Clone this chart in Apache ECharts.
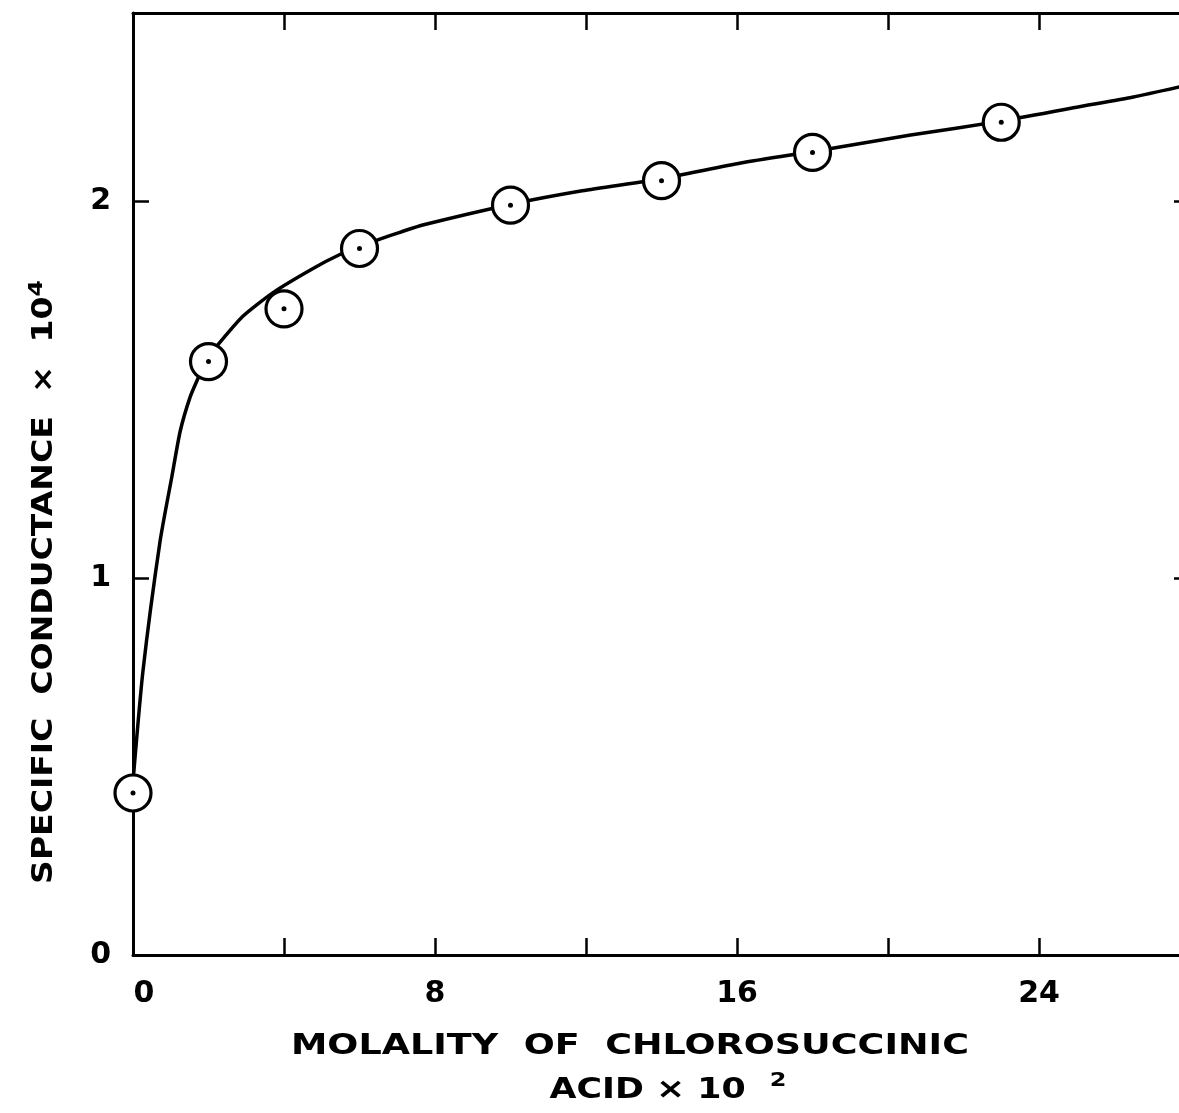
<!DOCTYPE html>
<html>
<head>
<meta charset="utf-8">
<title>Specific conductance of chlorosuccinic acid</title>
<script src="https://cdn.jsdelivr.net/npm/echarts@6/dist/echarts.min.js"></script>
<style>
  html, body { margin: 0; padding: 0; background: #ffffff; overflow: hidden; }
  #chart { width: 1179px; height: 1113px; }
</style>
</head>
<body>
<div id="chart"></div>
<script>
// Measured points: molality of chlorosuccinic acid (x 10^2) vs specific conductance (x 10^4)
var molality = [0, 2, 4, 6, 10, 14, 18, 23];
var conductance = [0.43, 1.575, 1.715, 1.875, 1.99, 2.055, 2.13, 2.21];

// Hand-drawn smooth curve through the measurements
var curveMolality = [0, 0.26, 0.72, 1.03, 1.25, 1.51, 1.72, 1.93, 2.23, 2.91, 3.71, 4.77, 5.48, 6.0, 6.54, 7.07, 7.7, 10.0, 11.9, 14.0, 16.1, 18.1, 20.6, 23.0, 25.0, 26.5, 28];
var curveConductance = [0.46, 0.75, 1.10, 1.27, 1.39, 1.48, 1.53, 1.577, 1.617, 1.695, 1.758, 1.822, 1.859, 1.880, 1.900, 1.918, 1.938, 1.992, 2.028, 2.06, 2.102, 2.134, 2.176, 2.213, 2.25, 2.277, 2.31];

// Axis ticks and labels
var xTickStep = 4;
var xLabelValues = [0, 8, 16, 24];
var yTickStep = 1;
var yLabelValues = [0, 1, 2];

// Axis titles; {s|...} marks the raised exponent
var xTitleLine1 = 'MOLALITY  OF  CHLOROSUCCINIC';
var xTitleLine2 = 'ACID × 10  {s|2}';
var yTitle = 'SPECIFIC  CONDUCTANCE  ×  10{s|4}';

var FONT = 'DejaVu Sans';
var INK = '#000000';

function pairs(xs, ys) {
  return xs.map(function (x, i) { return [x, ys[i]]; });
}

var pointData = pairs(molality, conductance);
var curveData = pairs(curveMolality, curveConductance);

var axisLine = { show: true, onZero: false, lineStyle: { color: INK, width: 3 } };

function xAxisBase(pos, labels) {
  return {
    type: 'value',
    position: pos,
    min: 0,
    max: 28,
    interval: xTickStep,
    axisLine: axisLine,
    axisTick: { show: true, inside: true, length: 17, lineStyle: { color: INK, width: 2.5 } },
    splitLine: { show: false },
    axisLabel: labels ? {
      show: true,
      margin: 24,
      fontFamily: FONT,
      fontWeight: 'bold',
      fontSize: 30,
      color: INK,
      formatter: function (v) {
        if (xLabelValues.indexOf(v) < 0) return '';
        return v === 0 ? '{z|0}' : String(v);
      },
      rich: { z: { fontFamily: FONT, fontWeight: 'bold', fontSize: 30, color: INK, padding: [0, 0, 0, 22] } }
    } : { show: false }
  };
}

function yAxisBase(pos, labels) {
  return {
    type: 'value',
    position: pos,
    min: 0,
    max: 2.5,
    interval: yTickStep,
    axisLine: axisLine,
    axisTick: { show: true, inside: true, length: 16, lineStyle: { color: INK, width: 2.5 } },
    splitLine: { show: false },
    axisLabel: labels ? {
      show: true,
      margin: 22,
      fontFamily: FONT,
      fontWeight: 'bold',
      fontSize: 30,
      color: INK,
      formatter: function (v) {
        return yLabelValues.indexOf(v) < 0 ? '' : String(v);
      }
    } : { show: false }
  };
}

var superscript = { fontFamily: FONT, fontWeight: 'bold', fontSize: 20, fill: INK, verticalAlign: 'top' };

var chart = echarts.init(document.getElementById('chart'), null, { renderer: 'canvas' });

chart.setOption({
  backgroundColor: '#ffffff',
  animation: false,
  // plot frame runs a little past the right edge of the page
  grid: { left: 133, width: 1057, top: 13, bottom: 158, containLabel: false, outerBoundsMode: 'none' },
  xAxis: [xAxisBase('bottom', true), xAxisBase('top', false)],
  yAxis: [yAxisBase('left', true), yAxisBase('right', false)],
  series: [
    {
      name: 'curve',
      type: 'line',
      data: curveData,
      smooth: 0.2,
      showSymbol: false,
      symbol: 'none',
      clip: false,
      lineStyle: { color: INK, width: 3.5 },
      z: 2
    },
    {
      name: 'points',
      type: 'scatter',
      data: pointData,
      symbol: 'circle',
      symbolSize: 36,
      itemStyle: { color: '#ffffff', borderColor: INK, borderWidth: 3.2, opacity: 1 },
      z: 5
    },
    {
      name: 'centres',
      type: 'scatter',
      data: pointData,
      symbol: 'circle',
      symbolSize: 5,
      itemStyle: { color: INK, opacity: 1 },
      z: 6
    }
  ],
  graphic: [
    {
      type: 'text',
      x: 630, y: 1046,
      scaleX: 1.26,
      style: { text: xTitleLine1, fontFamily: FONT, fontWeight: 'bold', fontSize: 29, fill: INK, align: 'center', verticalAlign: 'middle' }
    },
    {
      type: 'text',
      x: 668, y: 1090,
      scaleX: 1.2,
      style: {
        text: xTitleLine2, fontFamily: FONT, fontWeight: 'bold', fontSize: 29, fill: INK,
        align: 'center', verticalAlign: 'middle', lineHeight: 38,
        rich: { s: superscript }
      }
    },
    {
      type: 'text',
      x: 45, y: 582,
      rotation: Math.PI / 2,
      scaleX: 1.18,
      style: {
        text: yTitle, fontFamily: FONT, fontWeight: 'bold', fontSize: 28, fill: INK,
        align: 'center', verticalAlign: 'middle', lineHeight: 36,
        rich: { s: superscript }
      }
    }
  ]
});
</script>
</body>
</html>
